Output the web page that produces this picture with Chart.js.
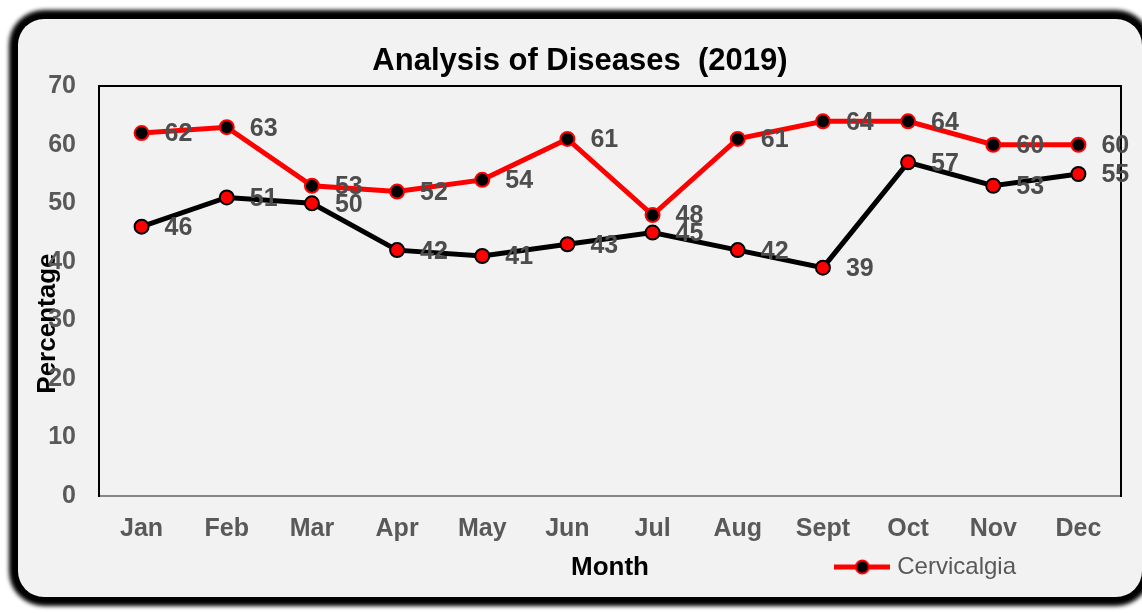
<!DOCTYPE html>
<html>
<head>
<meta charset="utf-8">
<title>Analysis of Diseases (2019)</title>
<script src="https://cdn.jsdelivr.net/npm/chart.js@4.4.0/dist/chart.umd.min.js"></script>
<style>
  html, body { margin: 0; padding: 0; background: #fff; overflow: hidden; }
  .frame {
    position: absolute; left: 18px; top: 19px; width: 1124px; height: 578px;
    background: #f2f2f2; border-radius: 26px;
    box-shadow: 0 0 4px 9px #000;
  }
  #diseaseChart { position: absolute; left: 0; top: 0; }
</style>
</head>
<body>
<div class="frame"></div>
<canvas id="diseaseChart" width="1142" height="613"></canvas>
<script>
// chart data
const months = ['Jan', 'Feb', 'Mar', 'Apr', 'May', 'Jun', 'Jul', 'Aug', 'Sept', 'Oct', 'Nov', 'Dec'];
const cervicalgia = [62, 63, 53, 52, 54, 61, 48, 61, 64, 64, 60, 60];
const secondSeries = [46, 51, 50, 42, 41, 43, 45, 42, 39, 57, 53, 55];
const yMin = 0;
const yMax = 70;
const yStep = 10;

const FONT = '"Liberation Sans", Arial, sans-serif';
const tickGray = '#595959';

// legend marker: red line with black dot
const legendMark = document.createElement('canvas');
legendMark.width = 56;
legendMark.height = 18;
const lm = legendMark.getContext('2d');
lm.strokeStyle = '#ff0000';
lm.lineWidth = 5;
lm.beginPath(); lm.moveTo(0, 9); lm.lineTo(56, 9); lm.stroke();
lm.beginPath(); lm.arc(28, 9, 6.5, 0, Math.PI * 2);
lm.fillStyle = '#000'; lm.fill();
lm.lineWidth = 2; lm.stroke();

// value labels right of each point
const valueLabels = {
  id: 'valueLabels',
  afterDatasetsDraw(chart) {
    const ctx = chart.ctx;
    ctx.save();
    ctx.font = 'bold 25px ' + FONT;
    ctx.fillStyle = '#4d4d4d';
    ctx.textAlign = 'left';
    ctx.textBaseline = 'middle';
    chart.data.datasets.forEach((ds, i) => {
      chart.getDatasetMeta(i).data.forEach((pt, j) => {
        ctx.fillText(ds.data[j], pt.x + 23, pt.y + 1.5);
      });
    });
    ctx.restore();
  }
};

// move legend to bottom right, same row as the x title
const legendShift = {
  id: 'legendShift',
  afterLayout(chart) {
    chart.legend.right = 1026;
  }
};

const ctx = document.getElementById('diseaseChart').getContext('2d');
const diseaseChart = new Chart(ctx, {
  type: 'line',
  data: {
    labels: months,
    datasets: [
      {
        label: 'Cervicalgia',
        data: cervicalgia,
        borderColor: '#ff0000',
        borderWidth: 5,
        pointRadius: 7,
        pointBackgroundColor: '#000',
        pointBorderColor: '#ff0000',
        pointBorderWidth: 2,
        xAxisID: 'x',
        yAxisID: 'y'
      },
      {
        label: 'Series 2',
        data: secondSeries,
        borderColor: '#000',
        borderWidth: 5,
        pointRadius: 7,
        pointBackgroundColor: '#ff0000',
        pointBorderColor: '#000',
        pointBorderWidth: 2,
        xAxisID: 'x',
        yAxisID: 'y'
      }
    ]
  },
  options: {
    responsive: false,
    animation: false,
    layout: { padding: { left: 18, right: 0, top: 0, bottom: 24 } },
    plugins: {
      title: {
        display: true,
        text: 'Analysis of Diseases  (2019)',
        color: '#000',
        font: { family: FONT, size: 31, weight: 'bold' },
        padding: { top: 43, bottom: 6 }
      },
      legend: {
        display: true,
        position: 'bottom',
        align: 'end',
        labels: {
          usePointStyle: true,
          pointStyleWidth: 46,
          color: tickGray,
          font: { family: FONT, size: 24 },
          generateLabels: function(chart) {
            return Chart.defaults.plugins.legend.labels.generateLabels(chart)
              .filter(item => item.datasetIndex === 0)
              .map(item => Object.assign(item, { pointStyle: legendMark }));
          }
        }
      },
      tooltip: { enabled: false }
    },
    scales: {
      x: {
        position: 'bottom',
        offset: true,
        grid: { display: false, drawTicks: false },
        border: { display: true, color: '#868686', width: 2 },
        ticks: {
          color: tickGray,
          padding: 18,
          font: { family: FONT, size: 25, weight: 'bold' }
        },
        title: {
          display: true,
          text: 'Month',
          color: '#000',
          font: { family: FONT, size: 26, weight: 'bold' },
          padding: { top: 0, bottom: -38.6 }
        },
        afterFit: function(scale) { scale.height = 49; }
      },
      x2: {
        type: 'category',
        position: 'top',
        offset: true,
        grid: { display: false, drawTicks: false },
        border: { display: true, color: '#000', width: 2 },
        ticks: { display: false },
        afterFit: function(scale) { scale.height = 0; }
      },
      y: {
        position: 'left',
        min: yMin,
        max: yMax,
        grid: { display: false, drawTicks: false },
        border: { display: true, color: '#000', width: 2 },
        ticks: {
          stepSize: yStep,
          color: tickGray,
          padding: 23,
          font: { family: FONT, size: 25, weight: 'bold' }
        },
        title: {
          display: true,
          text: 'Percentage         ',
          color: '#000',
          font: { family: FONT, size: 26, weight: 'bold' },
          padding: { top: 14, bottom: 0 }
        },
        afterFit: function(scale) { scale.width = 81; }
      },
      y2: {
        type: 'linear',
        position: 'right',
        grid: { display: false, drawTicks: false },
        border: { display: true, color: '#000', width: 2 },
        ticks: { display: false },
        afterFit: function(scale) { scale.width = 21; }
      }
    }
  },
  plugins: [valueLabels, legendShift]
});
</script>
</body>
</html>
